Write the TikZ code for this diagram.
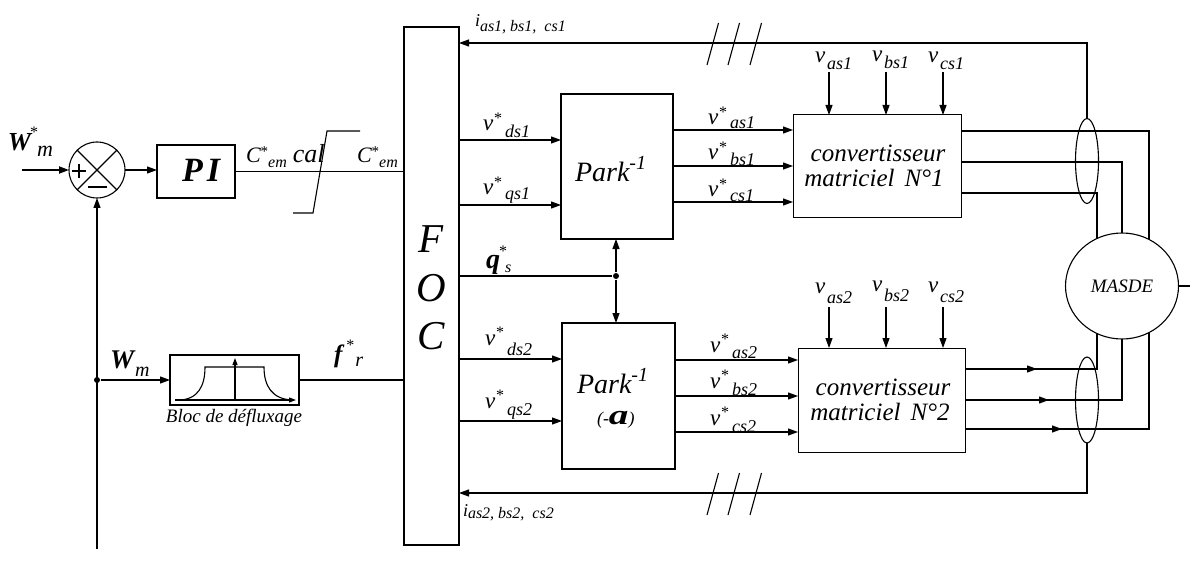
\documentclass[tikz,border=0pt]{standalone}
\usepackage{fontspec}
\setmainfont{Liberation Serif}
\usetikzlibrary{arrows.meta,shapes.geometric}
\newcommand\fsz[1]{\fontsize{#1}{#1}\selectfont}
\newcommand\vst[2][6pt]{{\fsz{23}\itshape v}\kern1pt\raisebox{7.5pt}{\fsz{16}*}\kern3pt\raisebox{-#1}{\fsz{18}\itshape #2}}
\newcommand\vin[2][7pt]{{\fsz{23}\itshape v}\kern2pt\raisebox{-#1}{\fsz{18}\itshape #2}}
\begin{document}
\begin{tikzpicture}[x=1pt,y=-1pt,line width=1.1pt,
  box/.style={draw,inner sep=0pt,outer sep=0pt,anchor=north west},
  arr/.style={-{Triangle[length=10pt,width=7pt]}},
  sarr/.style={-{Triangle[length=7pt,width=5pt]}},
  lab/.style={inner sep=0pt,outer sep=0pt,anchor=base west},
  ctr/.style={inner sep=0pt,outer sep=0pt,anchor=base},
  dot/.style={circle,fill,inner sep=0pt,minimum size=6pt}]
\useasboundingbox (0,0) rectangle (1190,561);
% blocks
\node[box,minimum width=55pt,minimum height=518pt] (foc) at (404,27) {};
\node[box,minimum width=78pt,minimum height=53pt] (pi) at (157,145) {};
\node[box,minimum width=129pt,minimum height=50pt,line width=1.3pt] (blk) at (170,355) {};
\node[box,minimum width=112pt,minimum height=145pt] (p1) at (561,94) {};
\node[box,minimum width=113pt,minimum height=146pt] (p2) at (562,323) {};
\node[box,minimum width=168pt,minimum height=103pt,line width=1pt] (c1) at (793,115) {};
\node[box,minimum width=167pt,minimum height=104pt,line width=1pt] (c2) at (798,348) {};
\node[draw,circle,minimum size=56pt,inner sep=0pt,outer sep=0pt] (sum) at (97,170) {};
\node[draw,ellipse,minimum width=23pt,minimum height=85pt,inner sep=0pt,outer sep=0pt] (e1) at (1087,161) {};
\node[draw,ellipse,minimum width=23pt,minimum height=86pt,inner sep=0pt,outer sep=0pt] (e2) at (1087,400) {};
% summing junction
\draw (sum.north west) -- (sum.south east) (sum.north east) -- (sum.south west);
\draw (72,171) -- (86,171) (79,164) -- (79,178);
\draw (88,187) -- (107,187);
% left chain
\coordinate (win) at (22,170);
\draw[arr,line width=2pt] (win) -- (sum.west);
\draw[arr] (sum.east) -- (pi.west |- sum.east);
\draw (pi.east) -- (foc.west |- pi.east);
\draw (293,213) -- (313,213) -- (327,131) -- (360,131);
\coordinate (fb) at (97,549);
\node[dot] (d1) at (97,380) {};
\draw[arr] (fb) -- (sum.south);
\draw[arr] (d1) -- (blk.west |- d1);
\draw (blk.east) -- (foc.west |- blk.east);
% defluxage curve
\draw[sarr] (175,400) -- (296,400);
\draw[sarr] (235,400) -- (235,358);
\draw (178,400) .. controls (198,400) and (205,386) .. (205,367) -- (264,367) .. controls (264,386) and (272,399) .. (292,400);
% FOC -> Park
\foreach \y in {140,205} \draw[arr] (foc.east |- 0,\y) -- (p1.west |- 0,\y);
\foreach \y in {359,421} \draw[arr] (foc.east |- 0,\y) -- (p2.west |- 0,\y);
\node[dot] (d2) at (616,276) {};
\draw (foc.east |- d2) -- (d2);
\draw[arr] (d2) -- (p1.south -| d2);
\draw[arr] (d2) -- (p2.north -| d2);
% Park -> converters
\foreach \y in {130,166,202} \draw[arr] (p1.east |- 0,\y) -- (c1.west |- 0,\y);
\foreach \y in {360,396,432} \draw[arr] (p2.east |- 0,\y) -- (c2.west |- 0,\y);
% converter inputs
\foreach \x in {829,886,943} {
  \coordinate (ta\x) at (\x,72);
  \draw[arr] (ta\x) -- (c1.north -| ta\x);
  \coordinate (tb\x) at (\x,307);
  \draw[arr] (tb\x) -- (c2.north -| tb\x);
}
% wires to machine
\draw (c1.east |- 0,131) -- (1149,131) -- (1149,429) -- (c2.east |- 0,429);
\draw (c1.east |- 0,162) -- (1122,162) -- (1122,400) -- (c2.east |- 0,400);
\draw (c1.east |- 0,193) -- (1097,193) -- (1097,369) -- (c2.east |- 0,369);
\coordinate (w1) at (1037,369);
\coordinate (w2) at (1049,400);
\coordinate (w3) at (1062,429);
\draw[arr] (c2.east |- w1) -- (w1);
\draw[arr] (c2.east |- w2) -- (w2);
\draw[arr] (c2.east |- w3) -- (w3);
\node[draw,fill=white,ellipse,minimum width=113pt,minimum height=106pt,inner sep=0pt,outer sep=0pt] (m) at (1122,286) {\fsz{19}\itshape MASDE};
\coordinate (mo) at (1190,286);
\draw (m.east) -- (mo);
% current feedback
\coordinate (k1) at (1087,43);
\coordinate (k2) at (1087,493);
\draw[arr] (e1.north) -- (k1) -- (foc.east |- k1);
\draw[arr] (e2.south) -- (k2) -- (foc.east |- k2);
\foreach \x in {707,728,750} {
  \draw (\x,65) -- ++(11.5,-42);
  \draw (\x,515) -- ++(11.5,-42);
}
% texts
\node[lab] at (8,151) {{\fsz{26}\bfseries\itshape W}\kern-1pt\raisebox{13pt}{\fsz{16}*}\kern-1pt\raisebox{-6pt}{\fsz{22}\itshape m}};
\node[lab] at (110,368) {{\fsz{27}\bfseries\itshape W}\kern1pt\raisebox{-8pt}{\fsz{20}\itshape m}};
\node[ctr] at (201,182) {\fsz{34}\bfseries\itshape P\kern4pt I};
\node[lab] at (246,163) {{\fsz{22}\itshape C}\raisebox{6pt}{\fsz{15}*}\raisebox{-5pt}{\fsz{16}\itshape em}\kern6pt{\fsz{26}\itshape cal}};
\node[lab] at (357,163) {{\fsz{22}\itshape C}\raisebox{6pt}{\fsz{15}*}\raisebox{-5pt}{\fsz{16}\itshape em}};
\node[lab] at (334,362) {{\fsz{25}\bfseries\itshape f}\kern4pt\raisebox{12pt}{\fsz{16}*}\kern1pt\raisebox{-4pt}{\fsz{20}\itshape r}};
\node[ctr] at (234,422) {\fsz{19}\itshape Bloc de défluxage};
\node[ctr] at (431,252) {\fsz{41}\itshape F};
\node[ctr] at (431,301) {\fsz{41}\itshape O};
\node[ctr] at (431,349) {\fsz{41}\itshape C};
\node[lab] at (475,27) {{\fsz{18}\itshape i}\raisebox{-5pt}{\fsz{16}\itshape as1, bs1,\ \ cs1}};
\node[lab] at (463,516) {{\fsz{18}\itshape i}\raisebox{-2pt}{\fsz{16}\itshape as2, bs2,\ \ cs2}};
\node[lab] at (483,131) {\vst[7pt]{ds1}};
\node[lab] at (483,195) {\vst[5pt]{qs1}};
\node[lab] at (485,345) {\vst[10pt]{ds2}};
\node[lab] at (485,408) {\vst[7pt]{qs2}};
\node[lab] at (486,268) {{\fsz{28}\bfseries\itshape q}\kern-1pt\raisebox{12pt}{\fsz{16}*}\kern-2pt\raisebox{-5pt}{\fsz{16}\itshape s}};
\node[lab] at (708,125) {\vst[4pt]{as1}};
\node[lab] at (708,160) {\vst[6pt]{bs1}};
\node[lab] at (708,197) {\vst[5pt]{cs1}};
\node[lab] at (710,352) {\vst[6pt]{as2}};
\node[lab] at (710,388) {\vst[7pt]{bs2}};
\node[lab] at (710,425) {\vst[7pt]{cs2}};
\node[lab] at (575,182) {{\fsz{28}\itshape Park}\raisebox{12pt}{\fsz{20}\itshape -1}};
\node[lab] at (577,393) {{\fsz{28}\itshape Park}\raisebox{12pt}{\fsz{20}\itshape -1}};
\node[lab] at (597,424) {{\fsz{18}\itshape (-}\scalebox{1.4}[1]{\fsz{28}\bfseries\itshape a}{\fsz{18}\itshape )}};
\node[lab] at (815,63) {\vin{as1}};
\node[lab] at (872,62) {\vin{bs1}};
\node[lab] at (928,63) {\vin{cs1}};
\node[lab] at (815,293) {\vin[10pt]{as2}};
\node[lab] at (872,291) {\vin[10pt]{bs2}};
\node[lab] at (928,292) {\vin[10pt]{cs2}};
\node[ctr] at (878,162) {\fsz{25}\itshape convertisseur};
\node[ctr] at (874,187) {\fsz{25}\itshape matriciel\hspace{10pt}N°1};
\node[ctr] at (883,395) {\fsz{25}\itshape convertisseur};
\node[ctr] at (880,420) {\fsz{25}\itshape matriciel\hspace{10pt}N°2};
\end{tikzpicture}
\end{document}
